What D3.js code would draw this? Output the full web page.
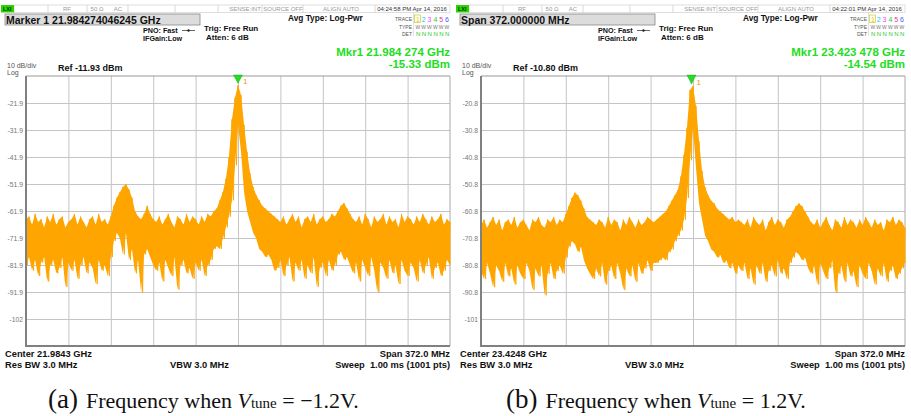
<!DOCTYPE html>
<html><head><meta charset="utf-8">
<script src="https://cdn.jsdelivr.net/npm/d3@7"></script>
<style>
body{margin:0;background:#fff;}
svg{display:block;font-family:"Liberation Sans",Arial,sans-serif;}
</style></head><body>
<svg id="c" width="911" height="416"></svg>
<script>
// ---- Data ----
const LEFT_HI = [-65,-64,-67,-63,-66,-65,-68,-64,-66,-63,-67,-65,-64,-68,-66,-65,-63,-67,-64,-66,-68,-65,-64,-67,-63,-66,-65,-67,-64,
 -60,-57,-55,-53,-52,-54,-57,-62,-64,-65,-63,-60,-63,-65,
 -66,-64,-67,-65,-63,-66,-68,-64,-65,-67,-63,-66,-64,-65,-67,-64,-66,-63,
 -64,-62,-61,-58,-55,-50,-42,-28,-20,-15.3,-19,-30,-40,-48,-53,-56,-58,-60,-61,-62,-63,-64,
 -65,-66,-64,-67,-65,-63,-66,-64,-68,-65,-64,-66,-63,-67,-65,-64,-66,-65,-63,-64,
 -62,-60,-59,-61,-63,
 -65,-66,-64,-67,-63,-65,-68,-64,-66,-65,-63,-67,-64,-66,-65,-68,-63,-66,-64,-65,-67,-64,-66,-63,-65,-67,-64,-66,-65,-63,-67,-65,-66];
const LEFT_LO = [-82,-79,-84,-80,-86,-81,-79,-88,-82,-80,-85,-83,-79,-90,-81,-84,-80,-87,-82,-79,-85,-81,-83,-89,-80,-84,-82,-86,-79,
 -73,-70,-72,-78,-70,-80,-76,-85,-80,-92,-78,-76,-79,-82,
 -84,-81,-88,-80,-83,-86,-79,-91,-82,-80,-85,-83,-87,-81,-84,-80,-86,-82,
 -80,-76,-75,-76,-72,-68,-64,-58,-45,-30,-40,-55,-62,-66,-70,-72,-76,-77,-79,-78,-80,-84,
 -83,-80,-86,-82,-79,-88,-81,-84,-80,-87,-82,-85,-79,-90,-83,-81,-86,-80,-84,-82,
 -78,-77,-80,-79,-82,
 -85,-81,-88,-80,-83,-86,-79,-84,-92,-81,-83,-87,-80,-85,-82,-89,-80,-84,-86,-81,-83,-88,-80,-85,-82,-79,-87,-83,-81,-86,-84,-80,-82];
const RIGHT_HI = [-66,-64,-67,-65,-63,-66,-64,-68,-65,-64,-66,-63,-67,-65,-64,-66,-68,-64,-65,-63,-66,-67,-64,-65,-63,-66,-64,-65,
 -62,-59,-56,-54,-55,-57,-60,-63,-64,-65,
 -66,-64,-65,-67,-63,-66,-64,-65,-68,-64,-66,-63,-65,-67,-64,-66,-65,-63,-64,-65,
 -64,-63,-62,-61,-59,-57,-55,-53,-48,-40,-30,-16,-14.5,-22,-35,-46,-52,-55,-57,-58,-60,-61,-62,-63,-64,-63,-65,-64,
 -65,-66,-64,-67,-63,-65,-66,-64,-68,-65,-63,-66,-64,-65,-67,-64,
 -63,-61,-59,-58,-59,-61,-63,
 -65,-66,-64,-67,-65,-63,-66,-68,-64,-65,-67,-63,-66,-64,-65,-67,-64,-66,-63,-65,-67,-64,-66,-65,-68,-64,-65,-63,-66,-64,-65,-67];
const RIGHT_LO = [-83,-86,-80,-84,-89,-81,-83,-87,-80,-85,-82,-88,-81,-84,-86,-80,-83,-90,-82,-85,-81,-92,-84,-80,-86,-83,-81,-84,
 -78,-74,-72,-73,-76,-74,-79,-82,-84,-86,
 -82,-85,-80,-88,-83,-81,-86,-80,-84,-90,-82,-85,-81,-87,-80,-84,-82,-79,-83,-80,
 -80,-79,-78,-79,-76,-75,-72,-70,-68,-64,-56,-42,-30,-45,-58,-64,-70,-72,-75,-76,-78,-77,-80,-79,-82,-80,-84,-81,
 -83,-80,-86,-82,-88,-81,-84,-80,-87,-83,-81,-85,-79,-84,-82,-86,
 -80,-78,-76,-77,-79,-78,-82,
 -84,-81,-88,-80,-83,-86,-82,-79,-91,-84,-81,-87,-80,-85,-83,-89,-81,-84,-86,-80,-83,-88,-82,-85,-80,-87,-83,-81,-86,-84,-82,-80];
const LEFT_YTICKS = ["-21.9","-31.9","-41.9","-51.9","-61.9","-71.9","-81.9","-91.9","-102"];
const RIGHT_YTICKS = ["-20.8","-30.8","-40.8","-50.8","-60.8","-70.8","-80.8","-90.8","-101"];

const panels = [
 {ox:0, hi:LEFT_HI, lo:LEFT_LO, ticks:LEFT_YTICKS, ref:-11.93, center:21.9843, span:0.372,
  mkrF:21.984274, title:"Marker 1 21.984274046245 GHz", time:"04:24:58 PM Apr 14, 2016",
  mkr1:"Mkr1 21.984 274 GHz", mkr2:"-15.33 dBm", mkrDb:-15.33, refTxt:"Ref -11.93 dBm",
  centerTxt:"Center 21.9843 GHz", caption:["(a)","Frequency when ","V","tune"," = \u22121.2V."], capX:48},
 {ox:455, hi:RIGHT_HI, lo:RIGHT_LO, ticks:RIGHT_YTICKS, ref:-10.80, center:23.4248, span:0.372,
  mkrF:23.423478, title:"Span 372.000000 MHz", time:"04:22:01 PM Apr 14, 2016",
  mkr1:"Mkr1 23.423 478 GHz", mkr2:"-14.54 dBm", mkrDb:-14.54, refTxt:"Ref -10.80 dBm",
  centerTxt:"Center 23.4248 GHz", caption:["(b)","Frequency when ","V","tune"," = 1.2V."], capX:506}
];

const svg = d3.select("#c");
svg.append("rect").attr("width",911).attr("height",416).attr("fill","#fff");

function txt(g,x,y,s,opt={}){
  const t=g.append("text").attr("x",x).attr("y",y).text(s)
    .attr("font-size",opt.size||8).attr("fill",opt.fill||"#111")
    .attr("font-weight",opt.bold?"bold":"normal");
  if(opt.anchor) t.attr("text-anchor",opt.anchor);
  if(opt.family) t.attr("font-family",opt.family);
  return t;
}

panels.forEach(p=>{
  const g = svg.append("g").attr("transform",`translate(${p.ox},0)`);
  const L=26, R=450, T=76, B=346;
  // --- status bar ---
  g.append("rect").attr("x",14).attr("y",5).attr("width",436).attr("height",7.5)
    .attr("fill","#fff").attr("stroke","#c8c8c8").attr("stroke-width",0.6);
  [48,87,128,175,218,262,303,375].forEach(v=>g.append("line").attr("x1",v).attr("x2",v)
    .attr("y1",5).attr("y2",12.5).attr("stroke","#c0c0c0").attr("stroke-width",0.6));
  g.append("rect").attr("x",1).attr("y",5).attr("width",13).attr("height",7.5).attr("fill","#2bd400");
  txt(g,3,11,"LXI",{size:5.5,fill:"#003300",bold:true});
  txt(g,67,11,"RF",{size:6,fill:"#999",anchor:"middle"});
  txt(g,97,11,"50 \u03a9",{size:6,fill:"#999",anchor:"middle"});
  txt(g,118,11,"AC",{size:6,fill:"#999",anchor:"middle"});
  txt(g,245,11,"SENSE:INT",{size:6,fill:"#999",anchor:"middle"});
  txt(g,283,11,"SOURCE OFF",{size:6,fill:"#999",anchor:"middle"});
  txt(g,341,11,"ALIGN AUTO",{size:6,fill:"#999",anchor:"middle"});
  txt(g,412,11,p.time,{size:6,fill:"#333",anchor:"middle"});
  // --- title box ---
  g.append("rect").attr("x",5).attr("y",14).attr("width",195).attr("height",11)
    .attr("fill","#dcdcdc").attr("stroke","#888").attr("stroke-width",0.8);
  txt(g,6,23.5,p.title,{size:10.5,bold:true});
  txt(g,143,33,"PNO: Fast",{size:7.2,bold:true});
  g.append("line").attr("x1",182).attr("x2",195).attr("y1",30.5).attr("y2",30.5).attr("stroke","#222").attr("stroke-width",0.7);
  g.append("circle").attr("cx",188.5).attr("cy",30.5).attr("r",1.2).attr("fill","#222");
  txt(g,143,41,"IFGain:Low",{size:7.2,bold:true});
  txt(g,204,31,"Trig: Free Run",{size:8,bold:true});
  txt(g,206,39.5,"Atten: 6 dB",{size:8,bold:true});
  txt(g,288,21,"Avg Type: Log-Pwr",{size:8.3,bold:true});
  // trace panel
  g.append("line").attr("x1",413.5).attr("x2",413.5).attr("y1",13).attr("y2",36).attr("stroke","#ccc").attr("stroke-width",0.6);
  txt(g,412,21,"TRACE",{size:5,fill:"#555",anchor:"end"});
  txt(g,412,28.5,"TYPE",{size:5,fill:"#555",anchor:"end"});
  txt(g,412,36,"DET",{size:5,fill:"#555",anchor:"end"});
  const tc=["#e8c800","#19c8e6","#ff40ff","#30c830","#e0409a","#4a5cff"];
  g.append("rect").attr("x",414.5).attr("y",15).attr("width",6).attr("height",7.5).attr("fill","none").attr("stroke","#c8c000").attr("stroke-width",0.6);
  tc.forEach((c,i)=>{
    txt(g,416+i*5.8,21.5,String(i+1),{size:7,fill:c,anchor:"start",bold:false});
    txt(g,415.5+i*5.8,28.5,"W",{size:5,fill:"#777"});
    txt(g,416+i*5.8,36,"N",{size:6,fill:"#28c828"});
  });
  // --- top labels ---
  txt(g,7,68,"10 dB/div",{size:7,fill:"#555"});
  txt(g,7,75,"Log",{size:7,fill:"#555"});
  txt(g,58,70.5,p.refTxt,{size:9,bold:true});
  txt(g,450,56,p.mkr1,{size:11.5,bold:true,fill:"#22dd22",anchor:"end"});
  txt(g,450,68,p.mkr2,{size:11.5,bold:true,fill:"#22dd22",anchor:"end"});

  // --- scales ---
  const x = d3.scaleLinear().domain([p.center-p.span/2, p.center+p.span/2]).range([L,R]);
  const y = d3.scaleLinear().domain([p.ref-100, p.ref]).range([B,T]);
  const yt = d3.range(1,10).map(k=>p.ref-10*k);
  const ya = g.append("g").attr("transform",`translate(${L},0)`)
    .call(d3.axisLeft(y).tickValues(yt).tickSize(-(R-L)).tickFormat((d,i)=>p.ticks[i]).tickPadding(3));
  ya.select(".domain").remove();
  ya.selectAll("line").attr("stroke","#c4c4c4");
  ya.selectAll("text").attr("font-size",6.8).attr("fill","#777").attr("font-family","Liberation Sans,Arial");
  const xt = d3.range(1,10).map(k=>p.center-p.span/2+p.span*k/10);
  const xa = g.append("g").attr("transform",`translate(0,${B})`)
    .call(d3.axisBottom(x).tickValues(xt).tickSize(-(B-T)).tickFormat(""));
  xa.select(".domain").remove();
  xa.selectAll("line").attr("stroke","#c4c4c4");
  g.append("line").attr("x1",L).attr("x2",R).attr("y1",T).attr("y2",T).attr("stroke","#999").attr("stroke-width",1);
  g.append("line").attr("x1",R).attr("x2",R).attr("y1",T).attr("y2",B).attr("stroke","#aaa").attr("stroke-width",1);

  // --- trace ---
  const N=p.hi.length, step=p.span/(N-1), f0=p.center-p.span/2;
  const bins = d3.range(N).map(i=>({f:f0+i*step, hi:p.hi[i], lo:p.lo[i]}));
  g.append("path").datum(bins)
    .attr("d",d3.area().x(d=>x(d.f)).y0(d=>y(d.lo)).y1(d=>y(d.hi)))
    .attr("fill","#ffa500").attr("stroke","none");
  const pts=[];
  bins.forEach((d,i)=>{
    pts.push([x(d.f),y(d.hi)]);
    pts.push([i<N-1?x(d.f+step/2):x(d.f),y(d.lo)]);
  });
  g.append("path").attr("d",d3.line()(pts)).attr("fill","none")
    .attr("stroke","#ffa500").attr("stroke-width",1).attr("stroke-opacity",0.9);

  g.append("line").attr("x1",L).attr("x2",L).attr("y1",T).attr("y2",B+1).attr("stroke","#808080").attr("stroke-width",2);
  g.append("line").attr("x1",L-1).attr("x2",R).attr("y1",B).attr("y2",B).attr("stroke","#808080").attr("stroke-width",2);

  // marker
  const mx=x(p.mkrF), my=y(p.mkrDb);
  g.append("path").attr("d",`M${mx-4.5},${T-1} L${mx+4.5},${T-1} L${mx},${my-2} Z`).attr("fill","#22dd22").attr("stroke","#119911").attr("stroke-width",0.4);
  txt(g,mx+5,my-1,"1",{size:8,fill:"#e89a00"});

  // --- bottom text ---
  txt(g,5,357,p.centerTxt,{size:9.3,bold:true});
  txt(g,5,368,"Res BW 3.0 MHz",{size:9.3,bold:true});
  txt(g,170,368,"VBW 3.0 MHz",{size:9.3,bold:true});
  txt(g,450,357,"Span 372.0 MHz",{size:9.3,bold:true,anchor:"end"});
  txt(g,450,368,"Sweep\u00a0\u00a01.00 ms (1001 pts)",{size:9.3,bold:true,anchor:"end"});

  // --- caption ---
  const c = svg.append("text").attr("x",p.capX).attr("y",408).attr("font-family","Liberation Serif,Times New Roman,serif").attr("fill","#111");
  c.append("tspan").attr("font-size",27).text(p.caption[0]);
  c.append("tspan").attr("font-size",22).attr("dx",8).text(p.caption[1]);
  c.append("tspan").attr("font-size",22).attr("font-style","italic").text(p.caption[2]);
  c.append("tspan").attr("font-size",15).text(p.caption[3]);
  c.append("tspan").attr("font-size",22).text(p.caption[4]);
});
</script>
</body></html>
